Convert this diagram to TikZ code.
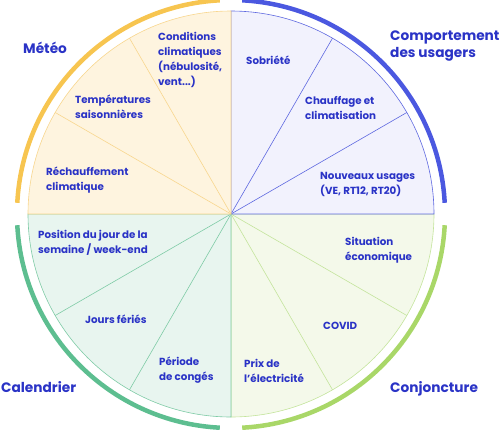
\documentclass[tikz,border=0pt]{standalone}
\usepackage{fontspec}
\setmainfont{Poppins}
\usetikzlibrary{positioning}

\definecolor{txtblue}{HTML}{2A33C6}
\definecolor{yelA}{HTML}{F7C550}
\definecolor{yelF}{HTML}{FEF4DF}
\definecolor{yelL}{HTML}{F8D68E}
\definecolor{bluA}{HTML}{4B58E0}
\definecolor{bluF}{HTML}{F2F2FD}
\definecolor{bluL}{HTML}{5E68E0}
\definecolor{teaA}{HTML}{5DBE90}
\definecolor{teaF}{HTML}{E8F5EF}
\definecolor{teaL}{HTML}{7FCBA6}
\definecolor{grnA}{HTML}{A9D768}
\definecolor{grnF}{HTML}{F4F9EA}
\definecolor{grnL}{HTML}{C4E49C}

\begin{document}
\begin{tikzpicture}[x=1pt, y=1pt,
    item/.style={inner sep=0pt, anchor=west, align=left, text=txtblue,
        font=\bfseries\fontsize{10.3}{15}\selectfont},
    theme/.style={inner sep=0pt, anchor=west, align=left, text=txtblue,
        font=\bfseries\fontsize{13.7}{17}\selectfont}]
    \useasboundingbox (-231,-218) rectangle (269,214);

    % Quadrants
    \foreach \a/\col in {270/grn, 0/blu, 180/tea, 90/yel} {
        \filldraw[fill=\col F, draw=\col L, line width=0.6pt] (0,0) -- (\a:203) arc (\a:\a+90:203) -- cycle;
        \foreach \k in {1,2}
            \draw[\col L, line width=0.6pt] (0,0) -- (\a+30*\k:203);
        \draw[\col A, line width=4.5pt] (\a+3:214) arc (\a+3:\a+87:214);
    }

    % Météo
    \node[theme] (meteo) at (-208,166) {Météo};
    \node[item] (cond) at (-73,154) {Conditions\\climatiques\\(nébulosité,\\vent...)};
    \node[item] (temp) at (-156,107) {Températures\\saisonnières};
    \node[item] (rech) at (-185,33.5) {Réchauffement\\climatique};

    % Comportement des usagers
    \node[theme] (comp) at (159,167.5) {Comportement\\des usagers};
    \node[item] (sobr) at (15,154) {Sobriété};
    \node[item] (chauf) at (74,105.5) {Chauffage et\\climatisation};
    \node[item] (nouv) at (89,29.5) {Nouveaux usages\\(VE, RT12, RT20)};

    % Calendrier
    \node[theme] (cal) at (-230,-173) {Calendrier};
    \node[item] (pos) at (-193,-28.5) {Position du jour de la\\semaine / week-end};
    \node[item] (feri) at (-146,-105) {Jours fériés};
    \node[item] (cong) at (-72,-156.5) {Période\\de congés};

    % Conjoncture
    \node[theme] (conj) at (159,-175) {Conjoncture};
    \node[item] (situ) at (114,-36.5) {Situation\\économique};
    \node[item] (covid) at (92,-112) {COVID};
    \node[item] (prix) at (13,-156.5) {Prix de\\l'électricité};
\end{tikzpicture}
\end{document}
